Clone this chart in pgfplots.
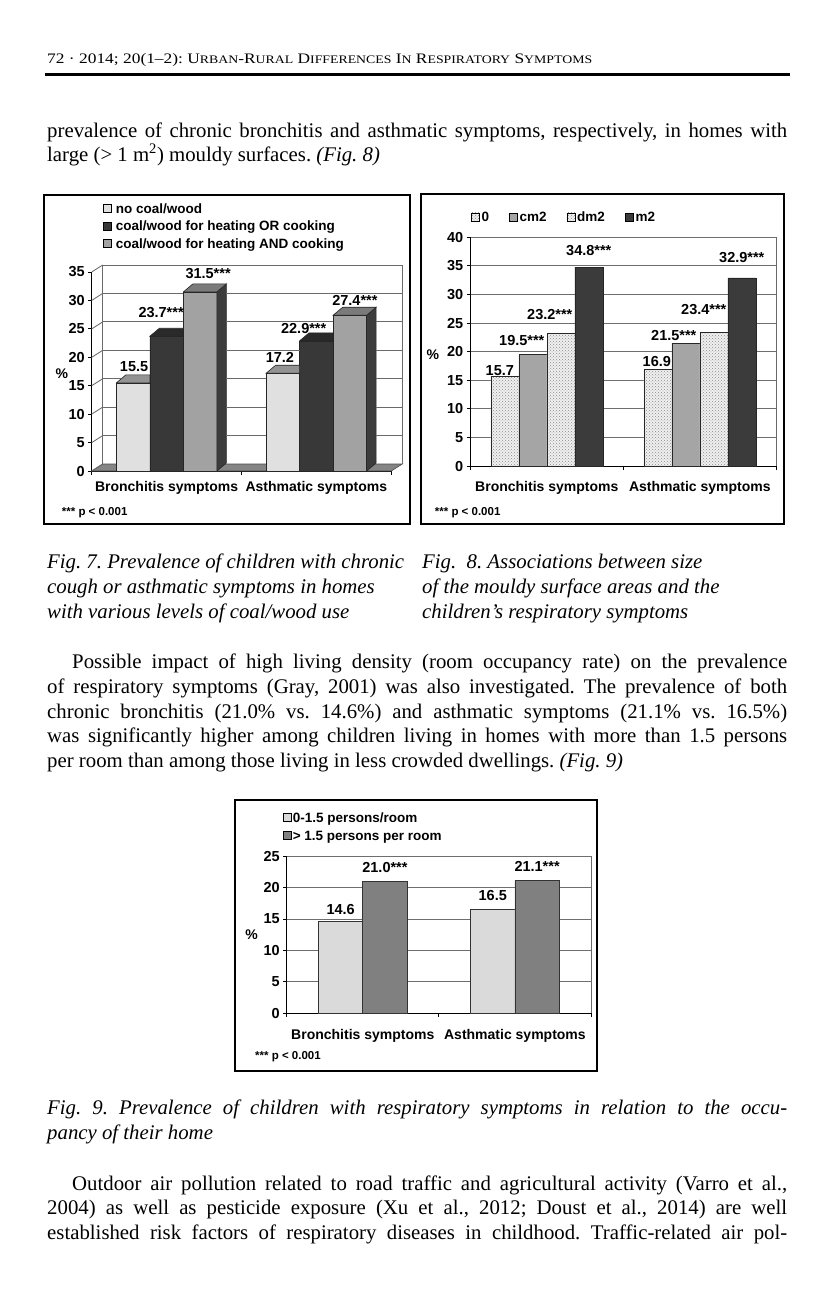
\documentclass[border=0pt]{standalone}
\usepackage{fontspec}
\setmainfont{Liberation Serif}
\newfontfamily\chartsf{Liberation Sans}
\usepackage{graphicx}
\usepackage{pgfplots}
\pgfplotsset{compat=1.18}
\usepackage{pgfplotstable}
\usetikzlibrary{patterns}

\definecolor{barA}{HTML}{E0E0E0}
\definecolor{barB}{HTML}{383838}
\definecolor{barC}{HTML}{A2A2A2}
\definecolor{topA}{HTML}{939393}
\definecolor{topB}{HTML}{2A2A2A}
\definecolor{topC}{HTML}{7A7A7A}
\definecolor{sidec}{HTML}{3C3C3C}
\definecolor{floorc}{HTML}{858585}
\definecolor{gridc}{HTML}{6E6E6E}
\definecolor{wallc}{HTML}{6A6A6A}
\definecolor{dotbg}{HTML}{F0F0F0}
\definecolor{dotfg}{HTML}{8A8A8A}
\definecolor{cmc}{HTML}{A5A5A5}
\definecolor{mc}{HTML}{3B3B3B}
\definecolor{nlight}{HTML}{DADADA}
\definecolor{ndark}{HTML}{808080}

\pgfdeclareplotmark{nothing}{}
\newcommand\cfont[1]{\chartsf\bfseries\fontsize{#1}{#1}\selectfont}
\newcommand\bodyfont{\fontsize{20.8}{24.7}\selectfont}
\newcommand\smc[1]{{\fontsize{11.5}{12}\selectfont #1}}
% thin filled strips for the 3-D wall lines: \hseg{x1}{x2}{y} (page coordinates, y downwards)
\newcommand\hseg[3]{\fill[wallc] (#1pt,{-#3pt-0.5pt}) rectangle (#2pt,{-#3pt+0.5pt});}
\frenchspacing

% ---------------- data ----------------
\pgfplotstableread{
x y lab dx dy
0.5 15.5 {15.5} 1 16.7
1.5 17.2 {17.2} -3 15.7
}\sevA
\pgfplotstableread{
x y lab dx dy
0.5 23.7 {23.7***} -5.5 24
1.5 22.9 {22.9***} -12.7 12.3
}\sevB
\pgfplotstableread{
x y lab dx dy
0.5 31.5 {31.5***} 8 18.3
1.5 27.4 {27.4***} 5 14.3
}\sevC
\pgfplotstableread{
x y lab dx dy
0.5 15.7 {15.7} -5 6
1.5 16.9 {16.9} -1 7.7
}\eightA
\pgfplotstableread{
x y lab dx dy
0.5 19.5 {19.5***} -11 14.3
1.5 21.5 {21.5***} -12 7.3
}\eightB
\pgfplotstableread{
x y lab dx dy
0.5 23.2 {23.2***} -11 19
1.5 23.4 {23.4***} -10 22.7
}\eightC
\pgfplotstableread{
x y lab dx dy
0.5 34.8 {34.8***} 0 17
1.5 32.9 {32.9***} 0 20
}\eightD
\pgfplotstableread{
x y lab dx dy
0.5 14.6 {14.6} 0 12.3
1.5 16.5 {16.5} 0 14
}\nineA
\pgfplotstableread{
x y lab dx dy
0.5 21.0 {21.0***} 0 14
1.5 21.1 {21.1***} 0 14
}\nineB

\pgfplotsset{
  /pgf/number format/assume math mode=true,
  threedT/.style n args={2}{forget plot, only marks, scatter, mark=nothing, point meta=y,
    scatter/@pre marker code/.code={%
      \pgfmathsetmacro\xl{#2-16.75}\pgfmathsetmacro\xr{#2+16.75}%
      \pgfmathsetmacro\xbl{#2-7.25}%
      \filldraw[fill=#1, draw=black!85, line width=.6pt] (\xl pt,0pt) -- (\xr pt,0pt) -- (\xr pt,8pt) -- (\xbl pt,8pt) -- cycle;},
    scatter/@post marker code/.code={}},
  threedF/.style n args={3}{forget plot, only marks, scatter, mark=nothing, point meta=y,
    visualization depends on={\thisrow{y} \as \barval},
    scatter/@pre marker code/.code={%
      \pgfmathsetmacro\barh{\barval*5.685714}%
      \pgfmathsetmacro\ytb{8-\barh}\pgfmathsetmacro\ybb{-\barh}%
      \pgfmathsetmacro\xl{#3-16.75}\pgfmathsetmacro\xr{#3+16.75}%
      \pgfmathsetmacro\xbr{#3+26.25}\pgfmathsetmacro\xbl{#3-7.25}%
      \filldraw[fill=#2, draw=black!85, line width=.6pt] (\xr pt,0pt) -- (\xbr pt,8pt) -- (\xbr pt,\ytb pt) -- (\xr pt,\ybb pt) -- cycle;
      \filldraw[fill=#1, draw=black!85, line width=.6pt] (\xl pt,0pt) -- (\xr pt,0pt) -- (\xbr pt,8pt) -- (\xbl pt,8pt) -- cycle;},
    scatter/@post marker code/.code={}},
  lab/.style={nodes near coords, point meta=explicit symbolic,
    visualization depends on={\thisrow{dx} \as \ldx},
    visualization depends on={\thisrow{dy} \as \ldy},
    nodes near coords style={font=\cfont{14.5}, anchor=center, inner sep=0pt, xshift={#1+\ldx pt}, yshift=\ldy pt}},
  chartbase/.style={scale only axis, anchor=south west, xmin=0, xmax=2, ymin=0,
    axis lines*=left, axis line style={black, line width=.8pt},
    xtick={0,1,2}, xticklabels={,,},
    extra x ticks={0.5,1.5}, extra x tick labels={Bronchitis symptoms,Asthmatic symptoms},
    extra x tick style={major tick length=0pt},
    tick align=outside, major tick length=3.5pt, tick style={black, line width=.8pt},
    yticklabel style={font=\cfont{14.5}},
    xticklabel style={font=\cfont{14}, anchor=center},
    ylabel={\%}, ylabel style={rotate=-90, font=\cfont{14}, anchor=center},
    legend cell align=left,
    legend image code/.code={\filldraw[##1, draw=black, line width=.6pt] (0pt,-4pt) rectangle (8pt,4pt);},
    clip=false},
  legbase/.style={anchor=north west, draw=none, fill=none, inner sep=0pt,
    font=\cfont{13.5}, nodes={inner sep=0pt, text height=9.7pt, text depth=0pt}},
}

\begin{document}
\begin{tikzpicture}
\path[fill=white, use as bounding box] (0pt,0pt) rectangle (834pt,-1294pt);

% ---------------- header ----------------
\node[anchor=base west, inner sep=0pt] at (47pt,-63pt) {\resizebox{545pt}{\height}{\fontsize{14.5}{15}\selectfont 72 · 2014; 20(1–2): U\smc{RBAN}-R\smc{URAL} D\smc{IFFERENCES} I\smc{N} R\smc{ESPIRATORY} S\smc{YMPTOMS}}};
\fill (45pt,-72.5pt) rectangle (790pt,-75.5pt);

% ---------------- paragraph 1 ----------------
\node[anchor=base west, inner sep=0pt] at (47pt,-137pt) {\bodyfont\makebox[740pt][s]{prevalence of chronic bronchitis and asthmatic symptoms, respectively, in homes with}};
\node[anchor=base west, inner sep=0pt] at (47pt,-161.5pt) {\bodyfont large (> 1 m\textsuperscript{2}) mouldy surfaces. \textit{(Fig. 8)}};

% ---------------- figure 7 ----------------
\draw[line width=2pt] (44pt,-195pt) rectangle (410pt,-524pt);
\begin{axis}[chartbase, at={(91.7pt,-471pt)},
  width=299.6pt, height=199pt, ymax=35, ytick={0,5,...,35},
  xticklabel style={yshift=-16.5pt},
  ylabel style={at={(axis description cs:-0.1,0.491)}},
  legend style={legbase, at={(axis description cs:0.0377,1.3445)}, row sep=7.8pt,
    /tikz/every odd column/.append style={column sep=4pt}}]
\filldraw[fill=floorc, draw=black!70, line width=.6pt] (axis cs:0,0) -- (axis cs:2,0) -- ([xshift=11pt,yshift=7pt]axis cs:2,0) -- ([xshift=11pt,yshift=7pt]axis cs:0,0) -- cycle;
\addplot[ybar, bar width=33.5pt, bar shift=-33.5pt, fill=barA, draw=black!85, line width=.6pt, lab=-33.5pt] table[x=x,y=y,meta=lab]{\sevA};
\addplot[ybar, bar width=33.5pt, bar shift=0pt, fill=barB, draw=black!85, line width=.6pt, lab=0pt] table[x=x,y=y,meta=lab]{\sevB};
\addplot[ybar, bar width=33.5pt, bar shift=33.5pt, fill=barC, draw=black!85, line width=.6pt, lab=33.5pt] table[x=x,y=y,meta=lab]{\sevC};
\legend{no coal/wood, coal/wood for heating OR cooking, coal/wood for heating AND cooking}
\end{axis}
% top and side faces of the 3-D bars
\begin{axis}[at={(91.7pt,-471pt)}, anchor=south west, scale only axis,
  width=299.6pt, height=199pt, xmin=0, xmax=2, ymin=0, ymax=35, hide axis, clip=false]
\addplot[threedT={topA}{-33.5}] table[x=x,y=y]{\sevA};
\addplot[threedT={topB}{0}] table[x=x,y=y]{\sevB};
\addplot[threedF={topC}{sidec}{33.5}] table[x=x,y=y]{\sevC};
\end{axis}
\node[anchor=west, inner sep=0pt] at (61.7pt,-512.7pt) {\cfont{11.5}*** p < 0.001};

% ---------------- figure 8 ----------------
\draw[line width=2pt] (421pt,-194pt) rectangle (784pt,-524pt);
\begin{axis}[chartbase, at={(470.3pt,-466pt)},
  width=306pt, height=228.7pt, ymax=40, ytick={0,5,...,40},
  ymajorgrids, grid style={gridc, line width=.8pt},
  xticklabel style={yshift=-22pt},
  ylabel style={at={(axis description cs:-0.122,0.485)}},
  legend columns=4,
  legend style={legbase, at={(axis description cs:0.0013,1.1113)},
    /tikz/every odd column/.append style={column sep=2pt},
    /tikz/every even column/.append style={column sep=20pt}}]
\addplot[ybar, bar width=28pt, bar shift=-42pt, fill=dotbg, postaction={pattern=crosshatch dots, pattern color=dotfg}, draw=black!85, line width=.6pt, lab=-42pt] table[x=x,y=y,meta=lab]{\eightA};
\addplot[ybar, bar width=28pt, bar shift=-14pt, fill=cmc, draw=black!85, line width=.6pt, lab=-14pt] table[x=x,y=y,meta=lab]{\eightB};
\addplot[ybar, bar width=28pt, bar shift=14pt, fill=dotbg, postaction={pattern=crosshatch dots, pattern color=dotfg}, draw=black!85, line width=.6pt, lab=14pt] table[x=x,y=y,meta=lab]{\eightC};
\addplot[ybar, bar width=28pt, bar shift=42pt, fill=mc, draw=black!85, line width=.6pt, lab=42pt] table[x=x,y=y,meta=lab]{\eightD};
\legend{0, cm2, dm2, m2}
\end{axis}
\node[anchor=west, inner sep=0pt] at (434.7pt,-512.7pt) {\cfont{11.5}*** p < 0.001};

% ---------------- captions ----------------
\begin{scope}[every node/.style={anchor=base west, inner sep=0pt, font=\bodyfont\itshape}]
\node at (47pt,-568.5pt) {Fig. 7. Prevalence of children with chronic};
\node at (47pt,-593pt) {cough or asthmatic symptoms in homes};
\node at (47pt,-618pt) {with various levels of coal/wood use};
\node at (422pt,-568.5pt) {Fig.\ \ 8. Associations between size};
\node at (422pt,-593pt) {of the mouldy surface areas and the};
\node at (422pt,-618pt) {children’s respiratory symptoms};
\end{scope}

% ---------------- paragraph 2 ----------------
\begin{scope}[every node/.style={anchor=base west, inner sep=0pt, font=\bodyfont}]
\node at (72pt,-668.5pt) {\makebox[715pt][s]{Possible impact of high living density (room occupancy rate) on the prevalence}};
\node at (47pt,-693pt) {\makebox[740pt][s]{of respiratory symptoms (Gray, 2001) was also investigated. The prevalence of both}};
\node at (47pt,-718pt) {\makebox[740pt][s]{chronic bronchitis (21.0\% vs. 14.6\%) and asthmatic symptoms (21.1\% vs. 16.5\%)}};
\node at (47pt,-742.5pt) {\makebox[740pt][s]{was significantly higher among children living in homes with more than 1.5 persons}};
\node at (47pt,-767pt) {per room than among those living in less crowded dwellings. \textit{(Fig. 9)}};
\end{scope}

% ---------------- figure 9 ----------------
\draw[line width=2pt] (235pt,-800pt) rectangle (597pt,-1071pt);
\begin{axis}[chartbase, at={(286.7pt,-1013.3pt)},
  width=304.3pt, height=157.3pt, ymax=25, ytick={0,5,...,25},
  ymajorgrids, grid style={gridc, line width=.8pt},
  xticklabel style={yshift=-22.4pt},
  ylabel style={at={(axis description cs:-0.115,0.498)}},
  legend style={legbase, at={(axis description cs:-0.0122,1.2769)}, row sep=8pt,
    /tikz/every odd column/.append style={column sep=1pt}}]
\addplot[ybar, bar width=44.3pt, bar shift=-22.15pt, fill=nlight, draw=black!80, line width=.6pt, lab=-22.15pt] table[x=x,y=y,meta=lab]{\nineA};
\addplot[ybar, bar width=44.3pt, bar shift=22.15pt, fill=ndark, draw=black!80, line width=.6pt, lab=22.15pt] table[x=x,y=y,meta=lab]{\nineB};
\legend{0-1.5 persons/room, > 1.5 persons per room}
\end{axis}
\node[anchor=west, inner sep=0pt] at (255pt,-1056.7pt) {\cfont{11.5}*** p < 0.001};

% ---------------- figure 9 caption ----------------
\begin{scope}[every node/.style={anchor=base west, inner sep=0pt, font=\bodyfont\itshape}]
\node at (47pt,-1114pt) {\makebox[740pt][s]{Fig. 9. Prevalence of children with respiratory symptoms in relation to the occu-}};
\node at (47pt,-1139pt) {pancy of their home};
\end{scope}

% ---------------- paragraph 3 ----------------
\begin{scope}[every node/.style={anchor=base west, inner sep=0pt, font=\bodyfont}]
\node at (72pt,-1190pt) {\makebox[715pt][s]{Outdoor air pollution related to road traffic and agricultural activity (Varro et al.,}};
\node at (47pt,-1214.5pt) {\makebox[740pt][s]{2004) as well as pesticide exposure (Xu et al., 2012; Doust et al., 2014) are well}};
\node at (47pt,-1239pt) {\makebox[740pt][s]{established risk factors of respiratory diseases in childhood. Traffic-related air pol-}};
\end{scope}

% ---------------- walls of the 3-D frame of figure 7 (visible parts only), drawn as thin filled strips ----------------
\foreach \yy in {464,435.6,407.1,378.7,350.3,321.9,293.4,265.0}
  \fill[wallc] (91.7pt,{-\yy pt-7.5pt}) -- (102.7pt,{-\yy pt-0.5pt}) -- (102.7pt,{-\yy pt+0.5pt}) -- (91.7pt,{-\yy pt-6.5pt}) -- cycle;
\fill[wallc] (102.2pt,-464pt) rectangle (103.2pt,-264.5pt);
\fill[wallc] (401.8pt,-464pt) rectangle (402.8pt,-264.5pt);
\hseg{102.7}{116.35}{435.6}\hseg{226.35}{266.15}{435.6}\hseg{376.15}{402.3}{435.6}
\hseg{102.7}{116.35}{407.1}\hseg{226.35}{266.15}{407.1}\hseg{376.15}{402.3}{407.1}
\hseg{102.7}{121.3}{378.7}\hseg{226.35}{266.15}{378.7}\hseg{376.15}{402.3}{378.7}
\hseg{102.7}{149.85}{350.3}\hseg{226.35}{299.65}{350.3}\hseg{376.15}{402.3}{350.3}
\hseg{102.7}{183.35}{321.9}\hseg{226.35}{333.15}{321.9}\hseg{376.15}{402.3}{321.9}
\hseg{102.7}{183.35}{293.4}\hseg{226.35}{402.3}{293.4}
\hseg{102.7}{402.3}{265.0}
% right borders of the plot areas of figures 8 and 9
\fill[wallc] (775.8pt,-466pt) rectangle (776.8pt,-237.3pt);
\fill[wallc] (590.5pt,-1013.3pt) rectangle (591.5pt,-856pt);
\end{tikzpicture}
\end{document}
